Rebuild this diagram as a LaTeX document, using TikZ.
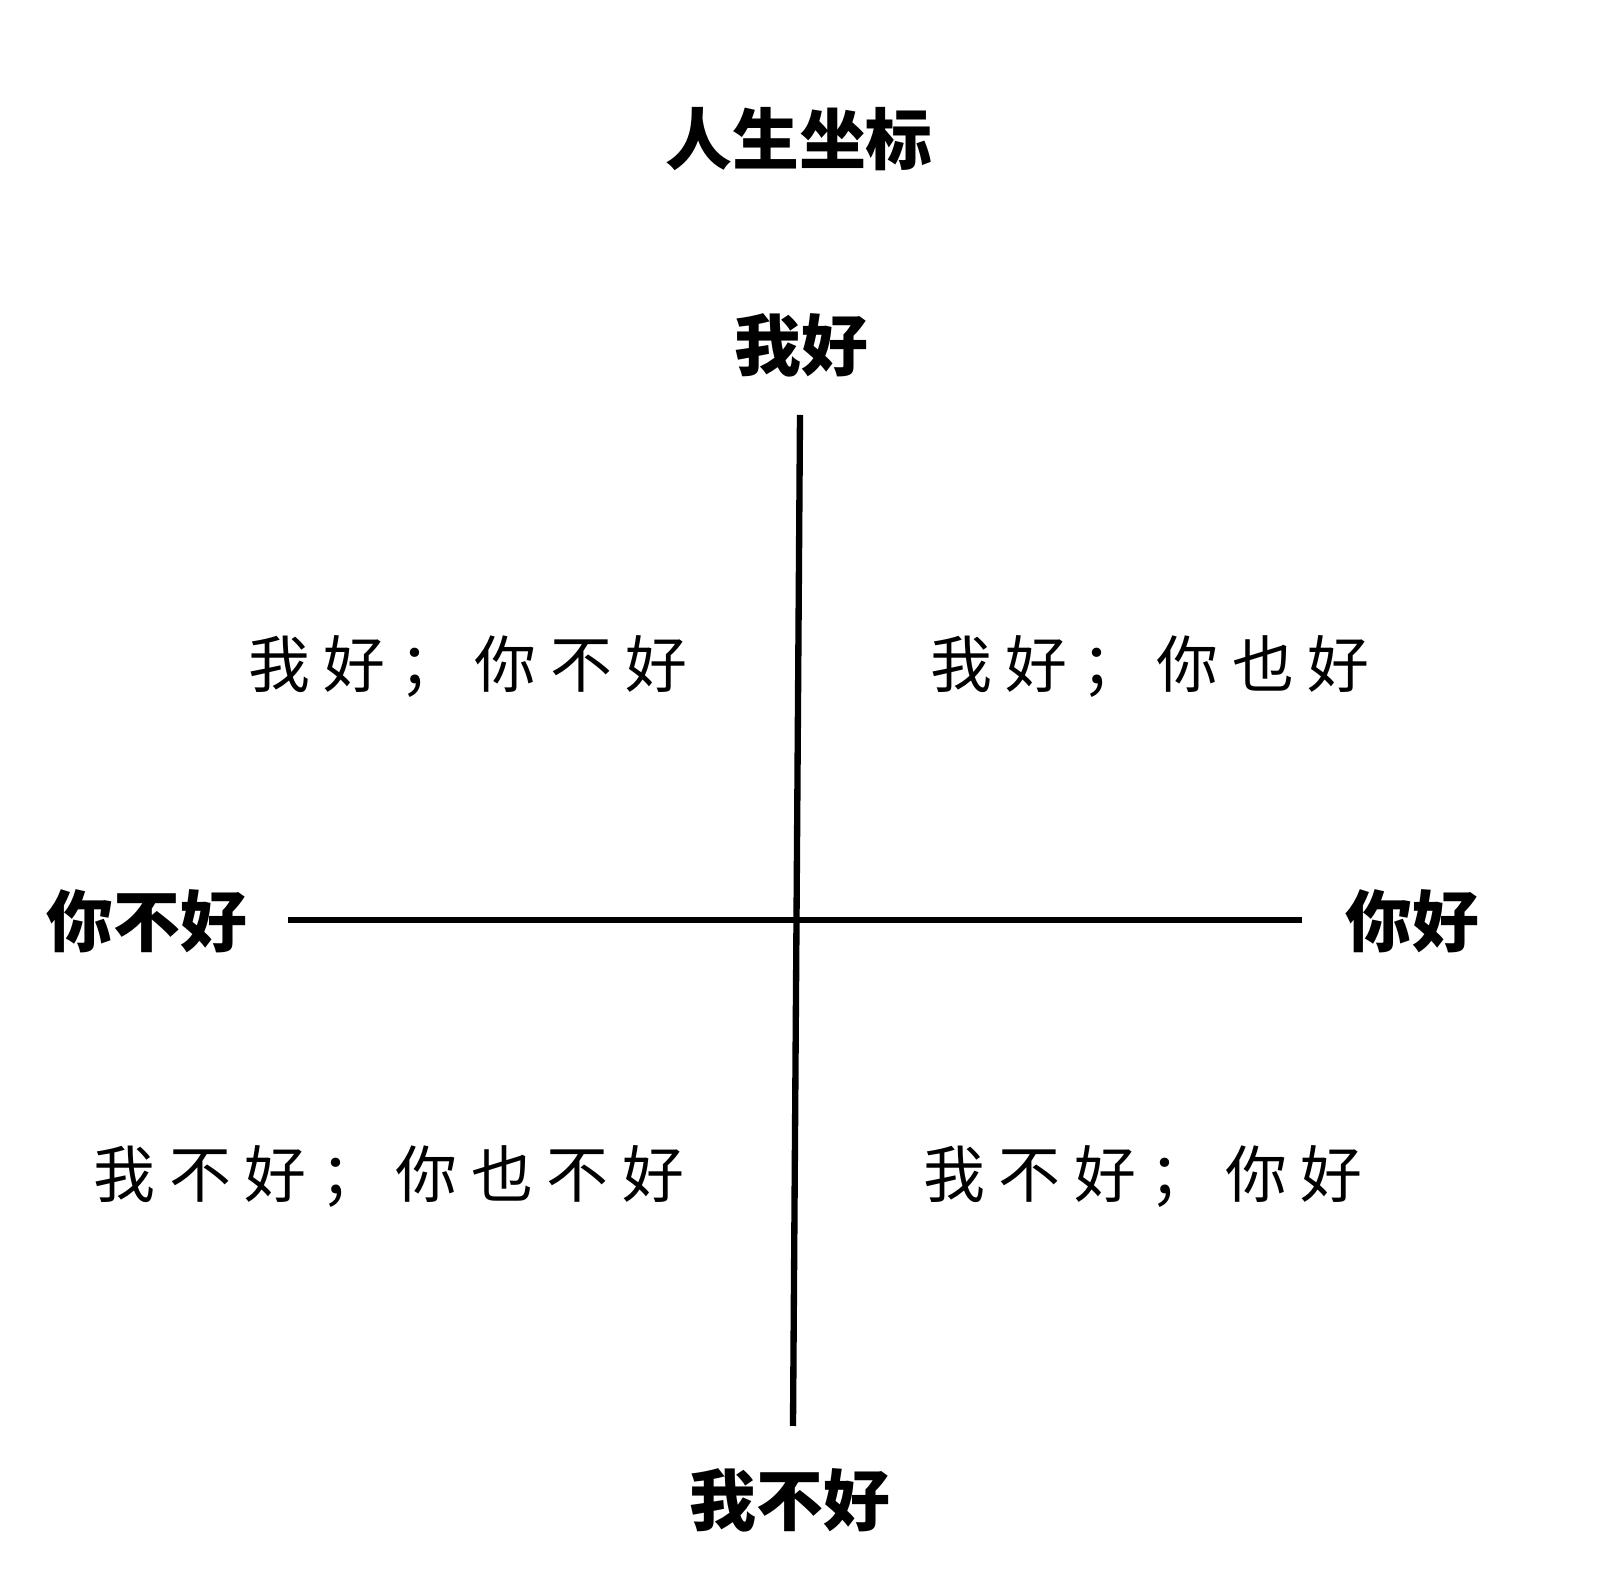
\documentclass[tikz,border=0pt]{standalone}
\usepackage{fontspec}
\usepackage{tikz}
\newfontfamily\cjk{Noto Sans CJK SC}
\newfontfamily\cjkwide{Noto Sans CJK SC}[LetterSpace=22]

\begin{document}
\begin{tikzpicture}[x=0.01cm,y=-0.01cm,every node/.style={inner sep=0pt},
  axislabel/.style={font=\cjk\bfseries\fontsize{19}{19}\selectfont},
  quadrant/.style={font=\cjkwide\fontsize{17.6}{17.6}\selectfont},
  axisline/.style={line width=1.8pt}]
\useasboundingbox (0,0) rectangle (1614,1574);
\node[axislabel] (title) at (799,139) {人生坐标};
% axis ends
\node[axislabel] (iok) at (801,345) {我好};
\node[axislabel] (inotok) at (790,1500) {我不好};
\node[axislabel] (unotok) at (147,921) {你不好};
\node[axislabel] (uok) at (1412,921) {你好};
\coordinate (ytop) at (800,415);
\coordinate (ybot) at (793,1426);
\coordinate (xleft) at (288,920);
\coordinate (xright) at (1302,920);
\draw[axisline] (ytop) -- (ybot);
\draw[axisline] (xleft) -- (xright);
% quadrants
\node[quadrant] (q1) at (468,667) {我好；你不好};
\node[quadrant] (q2) at (1150,667) {我好；你也好};
\node[quadrant] (q3) at (389,1176) {我不好；你也不好};
\node[quadrant] (q4) at (1143,1176) {我不好；你好};
\end{tikzpicture}
\end{document}
